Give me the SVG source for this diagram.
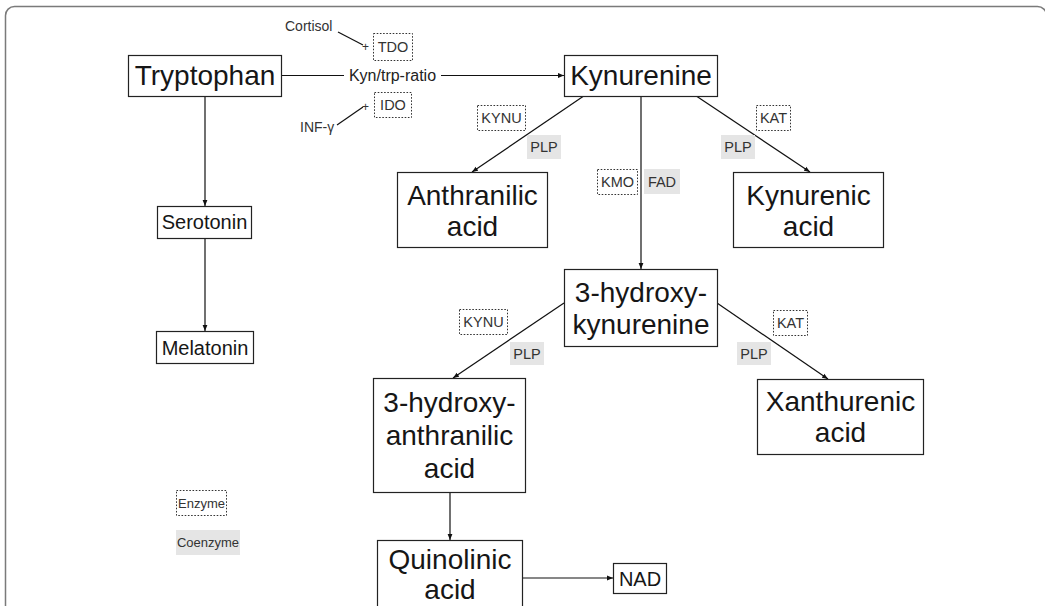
<svg xmlns="http://www.w3.org/2000/svg" width="1045" height="606" viewBox="0 0 1045 606">
<defs>
<marker id="ah" viewBox="0 0 6 6" refX="6" refY="3" markerWidth="6" markerHeight="6" markerUnits="userSpaceOnUse" orient="auto">
<path d="M0,0.6 L6,3 L0,5.4 Z" fill="#111"/>
</marker>
<style>
text{font-family:"Liberation Sans",Arial,Helvetica,sans-serif;fill:#161616;}
.node rect{fill:#fff;stroke:#222;stroke-width:1.2;}
.big{font-size:28px;text-anchor:middle;}
.mid{font-size:20px;text-anchor:middle;}
.sm{font-size:14px;fill:#333;}
.plus{font-size:12px;fill:#333;}
.ratio{font-size:16px;fill:#222;text-anchor:middle;}
.smc{font-size:14.5px;fill:#333;text-anchor:middle;}
.leg{font-size:13px;fill:#333;text-anchor:middle;}
.enz{fill:#fff;stroke:#333;stroke-width:1;stroke-dasharray:1.6 1.6;}
.coe{fill:#e5e5e5;stroke:none;}
.conn line{stroke:#111;stroke-width:1.2;fill:none;}
.arr{marker-end:url(#ah);}
</style>
</defs>
<rect x="5.5" y="6.5" width="1041" height="700" rx="9" fill="none" stroke="#7a7a7a" stroke-width="1.5"/>

<g class="conn" id="connectors">
<line x1="281" y1="75.5" x2="344" y2="75.5"/>
<line x1="441" y1="75.5" x2="564" y2="75.5" class="arr"/>
<line x1="338" y1="32" x2="363" y2="45"/>
<line x1="337" y1="125" x2="363" y2="107"/>
<line x1="205" y1="96" x2="205" y2="206" class="arr"/>
<line x1="205" y1="238" x2="205" y2="331" class="arr"/>
<line x1="583" y1="96.5" x2="472" y2="172" class="arr"/>
<line x1="641" y1="96.5" x2="641" y2="269" class="arr"/>
<line x1="697" y1="96.5" x2="810" y2="172" class="arr"/>
<line x1="564" y1="303" x2="453" y2="378" class="arr"/>
<line x1="717" y1="303" x2="828" y2="379" class="arr"/>
<line x1="450" y1="492" x2="450" y2="540" class="arr"/>
<line x1="522" y1="578" x2="613" y2="578" class="arr"/>
</g>

<g id="labels">
<text class="sm" x="285" y="31">Cortisol</text>
<text class="plus" x="362" y="51">+</text>
<text class="sm" x="300" y="132">INF-γ</text>
<text class="plus" x="362" y="111">+</text>
<text class="ratio" x="392.5" y="81">Kyn/trp-ratio</text>
</g>

<g id="enz-TDO"><rect class="enz" x="373.5" y="33.5" width="39" height="27"/><text class="smc" x="393" y="52">TDO</text></g>
<g id="enz-IDO"><rect class="enz" x="374.5" y="92.5" width="37" height="25"/><text class="smc" x="393" y="110">IDO</text></g>

<g id="enz-KYNU1"><rect class="enz" x="477.5" y="105.5" width="48" height="25"/><text class="smc" x="501.5" y="123">KYNU</text></g>
<g id="coe-PLP1"><rect class="coe" x="527" y="135" width="34" height="24"/><text class="smc" x="544" y="152">PLP</text></g>
<g id="enz-KMO"><rect class="enz" x="597.5" y="169.5" width="40" height="25"/><text class="smc" x="617.5" y="187">KMO</text></g>
<g id="coe-FAD"><rect class="coe" x="644" y="169" width="36" height="25"/><text class="smc" x="662" y="187">FAD</text></g>
<g id="enz-KAT1"><rect class="enz" x="756.5" y="105.5" width="34" height="25"/><text class="smc" x="773.5" y="123">KAT</text></g>
<g id="coe-PLP2"><rect class="coe" x="721" y="135" width="34" height="24"/><text class="smc" x="738" y="152">PLP</text></g>

<g id="enz-KYNU2"><rect class="enz" x="459.5" y="309.5" width="48" height="25"/><text class="smc" x="483.5" y="327">KYNU</text></g>
<g id="coe-PLP3"><rect class="coe" x="510" y="342" width="34" height="23"/><text class="smc" x="527" y="359">PLP</text></g>
<g id="enz-KAT2"><rect class="enz" x="773.5" y="310.5" width="34" height="25"/><text class="smc" x="790.5" y="328">KAT</text></g>
<g id="coe-PLP4"><rect class="coe" x="737" y="342" width="34" height="23"/><text class="smc" x="754" y="359">PLP</text></g>

<g id="legend-enzyme"><rect class="enz" x="176.5" y="490.5" width="50" height="25"/><text class="leg" x="201.5" y="507.5">Enzyme</text></g>
<g id="legend-coenzyme"><rect class="coe" x="176" y="530" width="64" height="25"/><text class="leg" x="208" y="547">Coenzyme</text></g>

<g class="node" id="tryptophan"><rect x="128.5" y="55.5" width="153" height="41"/><text class="big" x="205" y="85">Tryptophan</text></g>
<g class="node" id="kynurenine"><rect x="564.5" y="55.5" width="153" height="41"/><text class="big" x="641" y="85">Kynurenine</text></g>
<g class="node" id="serotonin"><rect x="157.5" y="206.5" width="94" height="32"/><text class="mid" x="204.5" y="229">Serotonin</text></g>
<g class="node" id="melatonin"><rect x="156.5" y="331.5" width="97" height="32"/><text class="mid" x="205" y="355">Melatonin</text></g>
<g class="node" id="anthranilic"><rect x="397.5" y="172.5" width="150" height="75"/><text class="big" x="472.5" y="205">Anthranilic</text><text class="big" x="472.5" y="236">acid</text></g>
<g class="node" id="kynurenic"><rect x="733.5" y="172.5" width="150" height="75"/><text class="big" x="808.5" y="205">Kynurenic</text><text class="big" x="808.5" y="236">acid</text></g>
<g class="node" id="hydroxykynurenine"><rect x="564.5" y="269.5" width="153" height="77"/><text class="big" x="641" y="302">3-hydroxy-</text><text class="big" x="641" y="334">kynurenine</text></g>
<g class="node" id="hydroxyanthranilic"><rect x="373.5" y="378.5" width="152" height="114"/><text class="big" x="449.5" y="412">3-hydroxy-</text><text class="big" x="449.5" y="445">anthranilic</text><text class="big" x="449.5" y="478">acid</text></g>
<g class="node" id="xanthurenic"><rect x="757.5" y="379.5" width="166" height="75"/><text class="big" x="840.5" y="411">Xanthurenic</text><text class="big" x="840.5" y="442">acid</text></g>
<g class="node" id="quinolinic"><rect x="377.5" y="540.5" width="145" height="110"/><text class="big" x="450" y="569">Quinolinic</text><text class="big" x="450" y="599">acid</text></g>
<g class="node" id="nad"><rect x="613.5" y="563.5" width="53" height="30"/><text class="mid" x="640" y="586">NAD</text></g>
</svg>
